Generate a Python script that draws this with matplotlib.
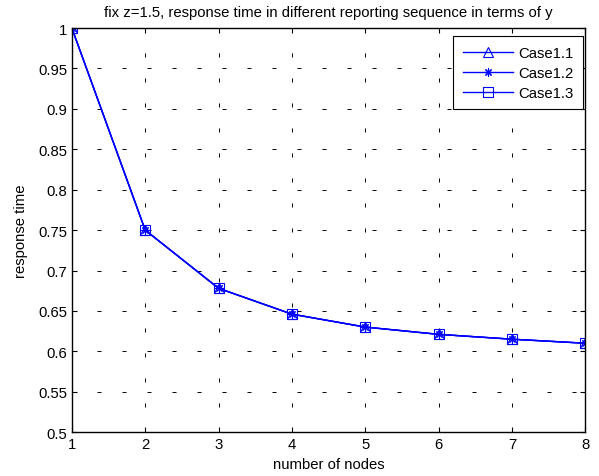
import matplotlib
matplotlib.use("Agg")
import matplotlib.pyplot as plt

plt.rcParams['font.family'] = ['Liberation Sans', 'DejaVu Sans']
plt.rcParams['font.size'] = 10.7
plt.rcParams['lines.scale_dashes'] = False

nodes = [1, 2, 3, 4, 5, 6, 7, 8]
case11 = [1.0, 0.75, 0.678, 0.646, 0.630, 0.621, 0.615, 0.610]
case12 = [1.0, 0.75, 0.678, 0.646, 0.630, 0.621, 0.615, 0.610]
case13 = [1.0, 0.75, 0.678, 0.646, 0.630, 0.621, 0.615, 0.610]
labels = ['Case1.1', 'Case1.2', 'Case1.3']
yticks = [0.5, 0.55, 0.6, 0.65, 0.7, 0.75, 0.8, 0.85, 0.9, 0.95, 1]
ytick_labels = ['0.5', '0.55', '0.6', '0.65', '0.7', '0.75', '0.8', '0.85', '0.9', '0.95', '1']

fig = plt.figure(figsize=(5.99, 4.77), dpi=100)
ax = fig.add_axes([0.120, 0.092, 0.857, 0.847])

ax.plot(nodes, case11, color='blue', lw=1, marker='^', ms=7.5, mfc='none', mew=0.8, label=labels[0])
ax.plot(nodes, case12, color='blue', lw=1, marker=(8, 2, 0), ms=6, mfc='none', mew=0.8, label=labels[1])
ax.plot(nodes, case13, color='blue', lw=1, marker='s', ms=6.5, mfc='none', mew=0.8, label=labels[2])

ax.set_xlim(1, 8)
ax.set_ylim(0.5, 1)
ax.set_xticks(nodes)
ax.set_yticks(yticks)
ax.set_yticklabels(ytick_labels)
ax.tick_params(direction='in', length=3.6, width=0.8, top=True, right=True, labelsize=10.7, pad=3.5)
ax.grid(True, color='black', linestyle=(0, (2.9, 15.1)), linewidth=0.7)
for s in ax.spines.values():
    s.set_linewidth(1.0)

ax.set_xlabel('number of nodes', fontsize=10.7, labelpad=4)
ax.set_ylabel('response time', fontsize=10.7, labelpad=7)
ax.set_title('fix z=1.5, response time in different reporting sequence in terms of y',
             fontsize=10.7, pad=9)

leg = ax.legend(loc='upper right', bbox_to_anchor=(0.996, 0.98), borderaxespad=0,
                fancybox=False, edgecolor='black', framealpha=1,
                fontsize=10.7, handlelength=3.4, handletextpad=0.35,
                borderpad=0.65, labelspacing=0.4)
leg.get_frame().set_linewidth(0.8)

fig.savefig('out.png', dpi=100)
